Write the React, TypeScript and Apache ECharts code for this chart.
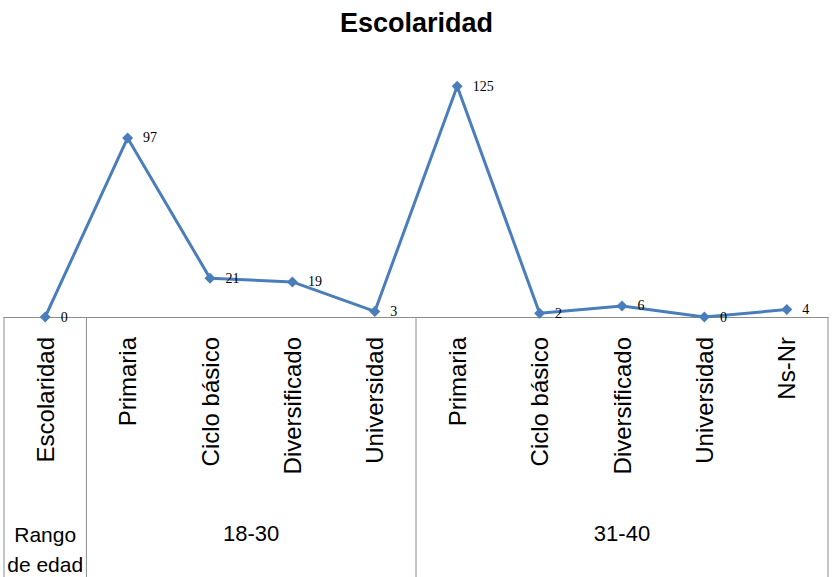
import React, { useEffect, useRef } from "react";
import * as echarts from "echarts";

const titleText = "Escolaridad";
const categories = [
  "Escolaridad",
  "Primaria",
  "Ciclo básico",
  "Diversificado",
  "Universidad",
  "Primaria",
  "Ciclo básico",
  "Diversificado",
  "Universidad",
  "Ns-Nr",
];
const values = [0, 97, 21, 19, 3, 125, 2, 6, 0, 4];
const groupLabels = ["Rango\nde edad", "18-30", "31-40"];
const groupStart = [0, 1, 5];
const groupEnd = [0, 4, 9];

const LINE_BLUE = "#4a7ebb";
const GRID_GRAY = "#8c8c8c";

export default function App() {
  const ref = useRef<HTMLDivElement>(null);

  useEffect(() => {
    if (!ref.current) return;
    const chart = echarts.init(ref.current, undefined, { renderer: "svg" });
    chart.setOption({
      animation: false,
      backgroundColor: "#ffffff",
      title: {
        text: titleText,
        left: "center",
        top: 4,
        textStyle: {
          fontFamily: "Liberation Sans",
          fontSize: 27,
          fontWeight: "bold",
          color: "#000000",
        },
      },
      grid: { left: 4, right: 5, top: 77, bottom: 260, containLabel: false },
      xAxis: {
        type: "category",
        data: categories,
        boundaryGap: true,
        axisLine: { show: true, lineStyle: { color: GRID_GRAY, width: 1 } },
        axisTick: { show: false },
        axisLabel: {
          interval: 0,
          rotate: 90,
          margin: 20,
          fontFamily: "Liberation Sans",
          fontSize: 24,
          color: "#000000",
        },
      },
      yAxis: {
        type: "value",
        min: 0,
        max: 130,
        show: false,
        splitLine: { show: false },
      },
      series: [
        {
          type: "line",
          data: values,
          symbol: "diamond",
          symbolSize: 11,
          lineStyle: { color: LINE_BLUE, width: 3 },
          itemStyle: { color: LINE_BLUE },
          z: 5,
          label: {
            show: true,
            position: "right",
            distance: 10,
            fontFamily: "Liberation Serif",
            fontSize: 14,
            color: "#000000",
          },
        },
      ],
    });

    const cx = (i: number) => chart.convertToPixel({ xAxisIndex: 0 }, i) as number;
    const band = cx(1) - cx(0);
    const boundary = (i: number) => cx(i) - band / 2;
    const axisY = chart.convertToPixel({ yAxisIndex: 0 }, 0) as number;
    const bottomY = 577;

    const boundaryIdx = [0, 1, 5, 10];
    const graphics: any[] = boundaryIdx.map((b) => ({
      type: "line",
      shape: { x1: boundary(b), y1: axisY, x2: boundary(b), y2: bottomY },
      style: { stroke: GRID_GRAY, lineWidth: 1 },
      silent: true,
    }));
    groupLabels.forEach((g, k) => {
      const x = (boundary(groupStart[k]) + boundary(groupEnd[k] + 1)) / 2;
      const multi = g.indexOf("\n") >= 0;
      graphics.push({
        type: "text",
        x: x,
        y: multi ? axisY + 232 : axisY + 216,
        style: {
          text: g,
          fontFamily: "Liberation Sans",
          fontSize: multi ? 21 : 22,
          lineHeight: 30,
          fill: "#000000",
          align: "center",
          verticalAlign: "middle",
        },
        silent: true,
      });
    });
    chart.setOption({ graphic: graphics });

    return () => chart.dispose();
  }, []);

  return (
    <div
      ref={ref}
      style={{ position: "fixed", left: 0, top: 0, width: 833, height: 577 }}
    />
  );
}
